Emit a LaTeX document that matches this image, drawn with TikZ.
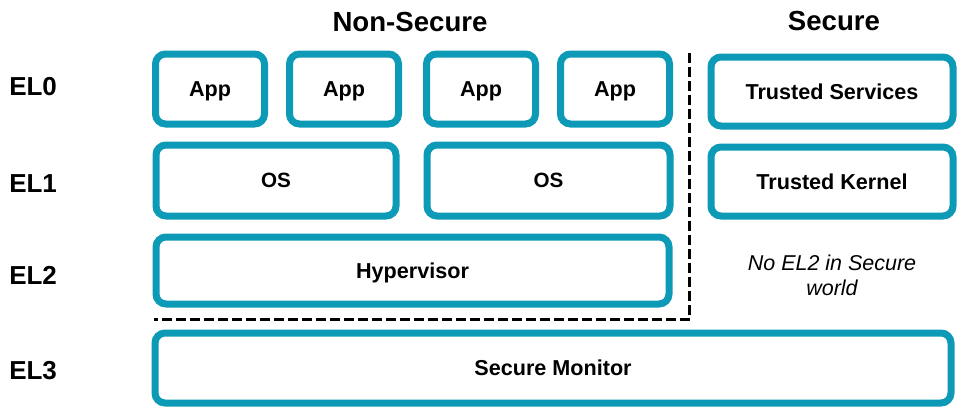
\documentclass[tikz,border=0pt]{standalone}
\usepackage{fontspec}
\setmainfont{Liberation Sans}
\definecolor{elteal}{RGB}{12,154,182}
\tikzset{
  layerbox/.style={draw=elteal, line width=5.25pt, rounded corners=7.5pt, inner sep=0pt,
    text height=11.6pt, text depth=0pt, font=\bfseries\fontsize{16.2}{19}\selectfont},
  ellabel/.style={anchor=west, inner sep=0pt, font=\bfseries\fontsize{19.5}{22}\selectfont},
  worldlabel/.style={inner sep=0pt, font=\bfseries\fontsize{20.7}{24}\selectfont}
}
\begin{document}
\begin{tikzpicture}[x=0.75pt, y=-0.75pt]
  \useasboundingbox (0,0) rectangle (970,418);

  \node[worldlabel] (nonsecure) at (410,22) {Non-Secure};
  \node[worldlabel] (secure) at (834,21) {Secure};

  \node[ellabel] (el0) at (9,87) {EL0};
  \node[ellabel] (el1) at (9,184) {EL1};
  \node[ellabel] (el2) at (9,275) {EL2};
  \node[ellabel] (el3) at (9,371) {EL3};

  \node[layerbox, minimum width=81.75pt, minimum height=52.5pt] (app1) at (210,89) {App};
  \node[layerbox, minimum width=81.75pt, minimum height=52.5pt] (app2) at (344,89) {App};
  \node[layerbox, minimum width=81.75pt, minimum height=52.5pt] (app3) at (481,89) {App};
  \node[layerbox, minimum width=81.75pt, minimum height=52.5pt] (app4) at (615,89) {App};

  \node[layerbox, minimum width=180pt, minimum height=53.25pt, font=\bfseries\fontsize{15.5}{18}\selectfont, text height=11pt] (os1) at (276,180.5) {OS};
  \node[layerbox, minimum width=182.25pt, minimum height=53.25pt, font=\bfseries\fontsize{15.5}{18}\selectfont, text height=11pt] (os2) at (548.5,180.5) {OS};

  \node[layerbox, minimum width=384.75pt, minimum height=50.25pt] (hyp) at (412.5,270.5) {Hypervisor};
  \node[layerbox, minimum width=597pt, minimum height=52.5pt] (monitor) at (553,368) {Secure Monitor};

  \node[layerbox, minimum width=181.5pt, minimum height=51.75pt] (services) at (832,91.5) {Trusted Services};
  \node[layerbox, minimum width=181.5pt, minimum height=51.75pt] (kernel) at (832,181.5) {Trusted Kernel};

  \node[align=center, inner sep=0pt, font=\itshape\fontsize{16.1}{18.75}\selectfont] (noel2) at (832,275.5) {No EL2 in Secure\\world};

  \coordinate (divtop) at (689.5,53);
  \coordinate (divcorner) at (689.5,319);
  \coordinate (divleft) at (154,319);
  \draw[line width=2.25pt, dash pattern=on 7.5pt off 3pt] (divtop) -- (divcorner) -- (divleft);
\end{tikzpicture}
\end{document}
